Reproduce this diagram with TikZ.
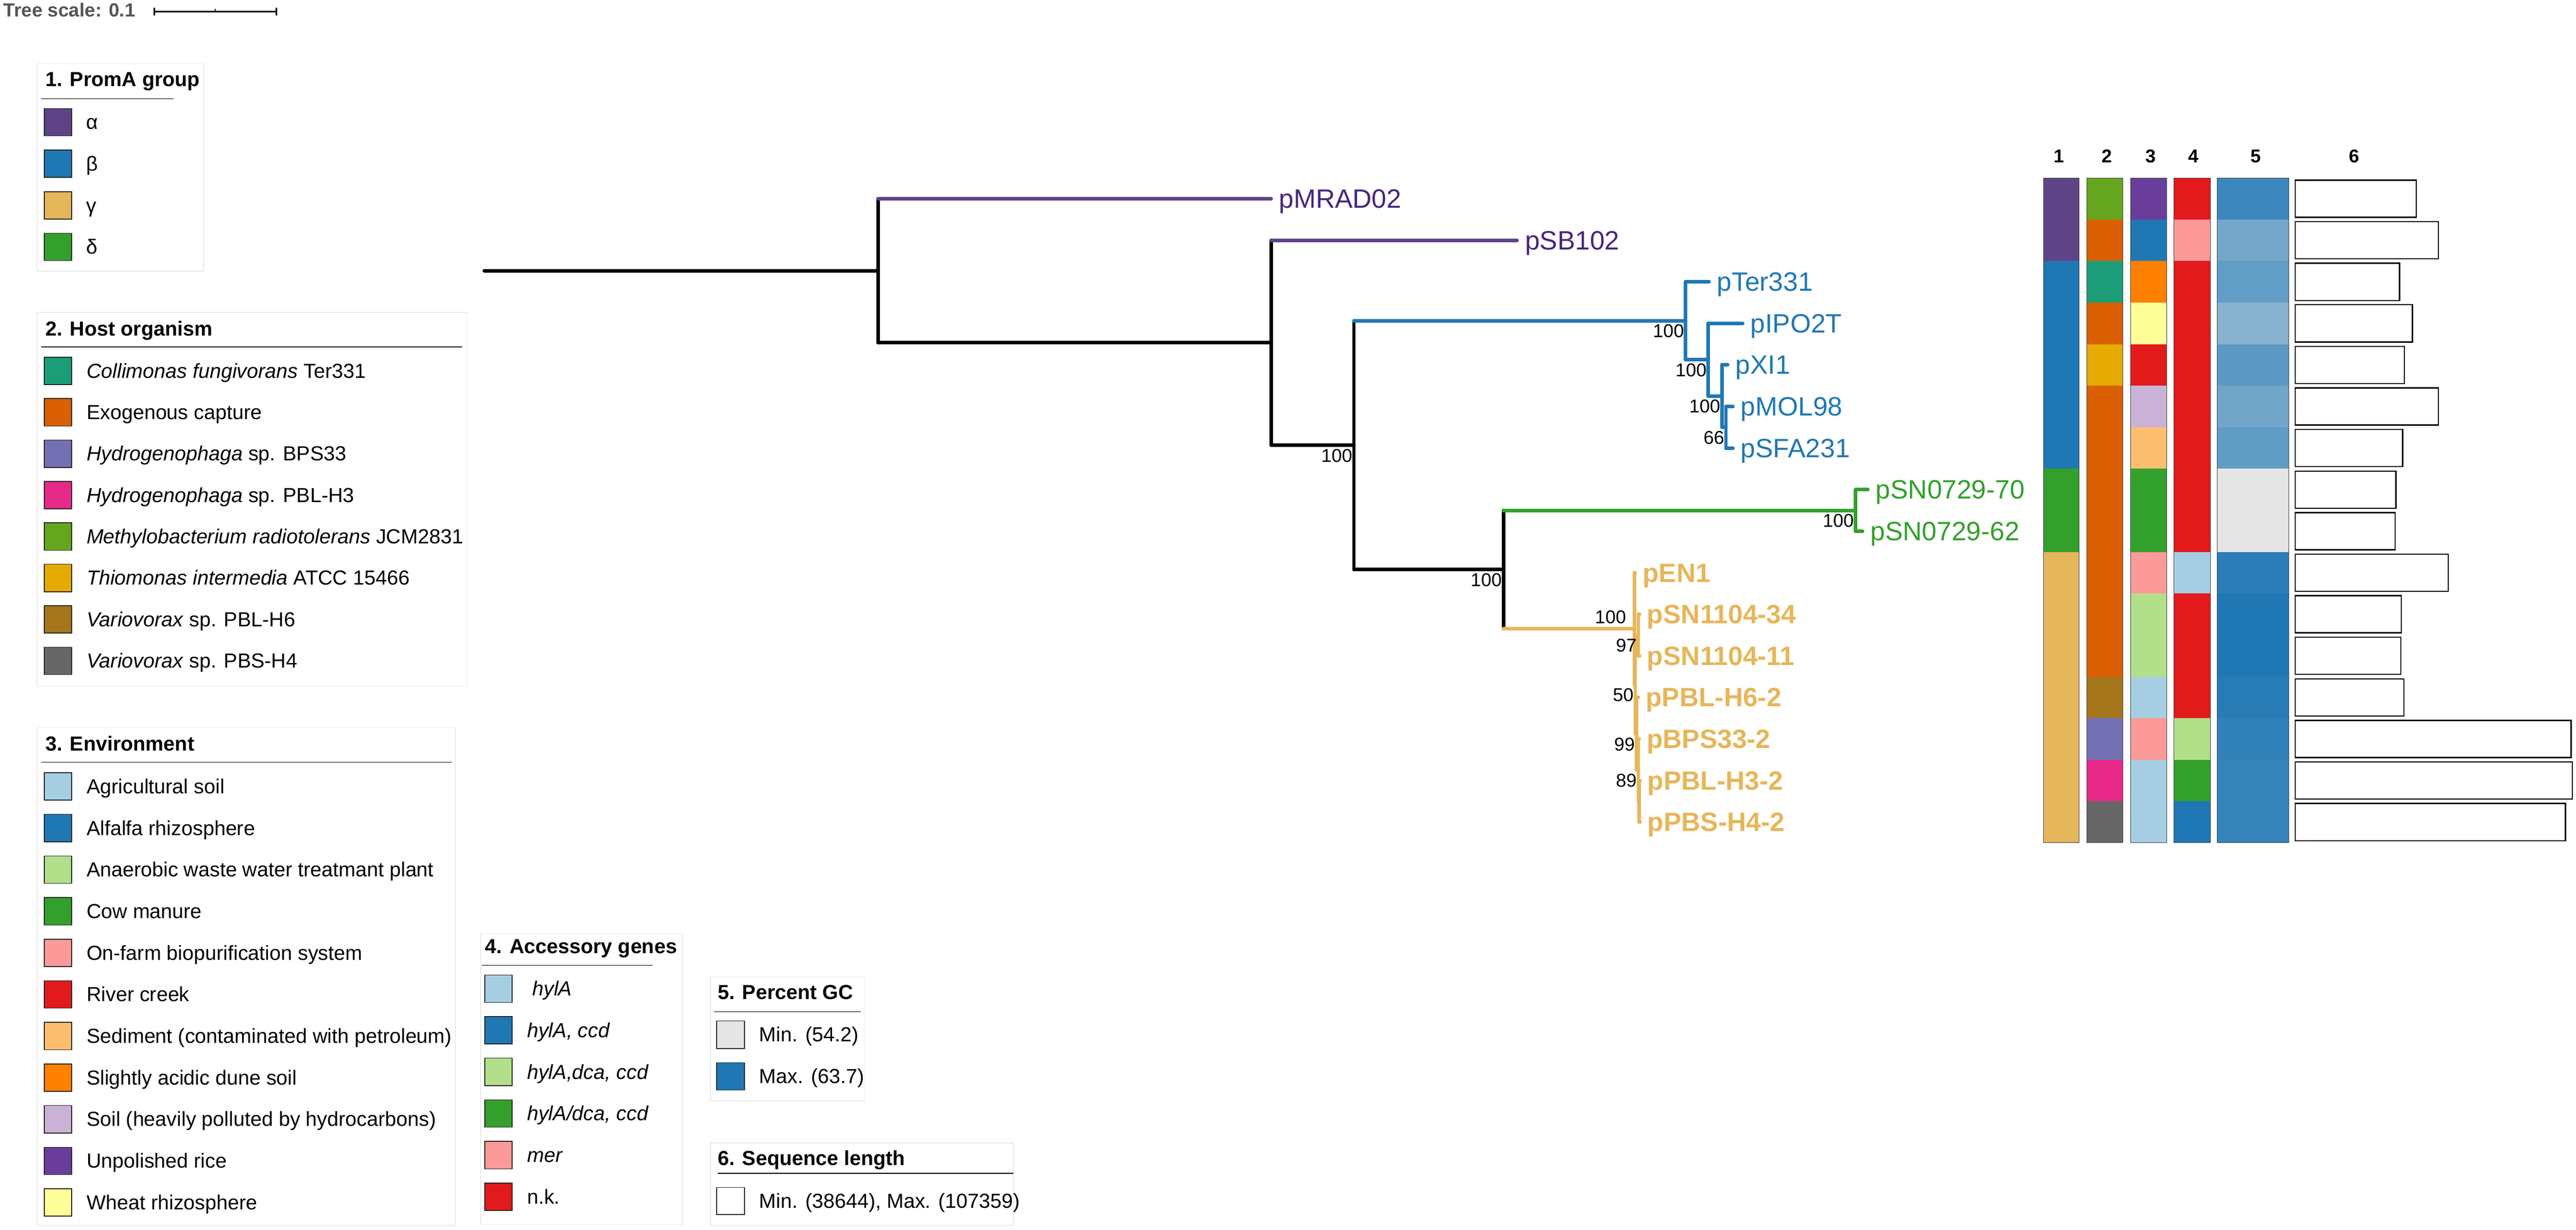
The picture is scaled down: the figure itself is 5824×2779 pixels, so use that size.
\documentclass[tikz,border=0pt]{standalone}
\usepackage{fontspec}
\setmainfont{Liberation Sans}
\usetikzlibrary{positioning,calc}

% clade colours
\definecolor{alphacol}{RGB}{95,67,135}
\definecolor{alphatext}{RGB}{72,38,124}
\definecolor{betacol}{RGB}{31,120,180}
\definecolor{gammacol}{RGB}{230,182,90}
\definecolor{deltacol}{RGB}{51,160,44}
% host organism
\definecolor{colli}{RGB}{27,158,119}
\definecolor{exog}{RGB}{217,95,2}
\definecolor{hbps}{RGB}{117,112,179}
\definecolor{hpbl}{RGB}{231,41,138}
\definecolor{methylo}{RGB}{102,166,30}
\definecolor{thio}{RGB}{230,171,2}
\definecolor{vpbl}{RGB}{166,118,29}
\definecolor{vpbs}{RGB}{102,102,102}
% environment
\definecolor{agri}{RGB}{166,206,227}
\definecolor{alfalfa}{RGB}{31,120,180}
\definecolor{anaer}{RGB}{178,223,138}
\definecolor{cow}{RGB}{51,160,44}
\definecolor{onfarm}{RGB}{251,154,153}
\definecolor{creek}{RGB}{227,26,28}
\definecolor{sediment}{RGB}{253,191,111}
\definecolor{acidic}{RGB}{255,127,0}
\definecolor{soilhc}{RGB}{202,178,214}
\definecolor{rice}{RGB}{106,61,154}
\definecolor{wheat}{RGB}{255,255,153}
% accessory genes
\definecolor{hyla}{RGB}{166,206,227}
\definecolor{hylaccd}{RGB}{31,120,180}
\definecolor{hyladca}{RGB}{178,223,138}
\definecolor{hyladcas}{RGB}{51,160,44}
\definecolor{mer}{RGB}{251,154,153}
\definecolor{nk}{RGB}{227,26,28}
% percent GC
\definecolor{gcmin}{RGB}{229,229,229}
\definecolor{gcmax}{RGB}{31,120,180}

\newcommand{\legfont}{\fontsize{11.5pt}{13.8pt}\selectfont}
\newcommand{\leaffont}{\fontsize{15pt}{18pt}\selectfont}
\newcommand{\bootfont}{\fontsize{10.5pt}{12.6pt}\selectfont}
\newcommand{\headfont}{\fontsize{10.5pt}{12.6pt}\selectfont\bfseries}
\newcommand{\scalefnt}{\fontsize{10.75pt}{13pt}\selectfont\bfseries}

\tikzstyle{branch}=[line width=2pt,line cap=round]
\tikzstyle{leaf}=[anchor=base west,inner sep=0pt,font=\leaffont]
\tikzstyle{boot}=[anchor=base east,inner sep=0pt,font=\bootfont]
\tikzstyle{legbox}=[draw=black!8,line width=0.5pt]
\tikzstyle{legtitle}=[anchor=base west,inner sep=0pt,font=\legfont\bfseries]
\tikzstyle{leglabel}=[anchor=base west,inner sep=0pt,font=\legfont]
\tikzstyle{swatch}=[draw=black!85,line width=0.45pt]
\tikzstyle{lenbar}=[draw=black,line width=0.7pt,fill=white]
\tikzstyle{colhead}=[anchor=base,inner sep=0pt,font=\headfont]

\begin{document}
\begin{tikzpicture}[x=0.25pt,y=-0.25pt]
    \useasboundingbox (0,0) rectangle (5824,2779);

    % tree scale
    \node[anchor=base west,inner sep=0pt,font=\scalefnt,text=black!67] (scale) at (7,38) {Tree scale: 0.1};
    \coordinate (s0) at (349,26);
    \coordinate (s1) at (625,26);
    \draw[line width=0.8pt] (s0) -- (s1);
    \draw[line width=0.8pt] ($(s0)+(0,-9)$) -- ($(s0)+(0,9)$);
    \draw[line width=0.8pt] ($(s1)+(0,-9)$) -- ($(s1)+(0,9)$);
    \draw[line width=0.6pt] ($(s0)!0.5!(s1)$) -- ++(0,-6);

    % leaves
    \foreach \nm/\tx/\row in {mrad/2874/0, sb/3430/1, ter/3864/2, ipo/3940/3,
      xi/3906/4, mol/3918/5, sfa/3918/6, s70/4223/7, s62/4211/8, en/3697/9,
      s34/3707/10, s11/3707/11, h6/3704/12, bps/3706/13, h3/3708/14, h4/3708/15}
      \coordinate (\nm) at (\tx,{449+93.9*\row});

    % inner nodes
    \coordinate (G) at (3902,965.45);
    \coordinate (F) at (3893,895);
    \coordinate (E) at (3862,812.9);
    \coordinate (D) at (3811,724.8);
    \coordinate (I) at (4195,1153.25);
    \coordinate (Nl) at (3706,1810.55);
    \coordinate (N89) at (3704,1740.1);
    \coordinate (N99) at (3700,1658);
    \coordinate (N97) at (3704,1435);
    \coordinate (N50) at (3697,1546.5);
    \coordinate (J) at (3695,1420.3);
    \coordinate (H) at (3399,1286.8);
    \coordinate (C) at (3061,1005.8);
    \coordinate (B) at (2874,774.3);
    \coordinate (A) at (1985,611.7);
    \coordinate (root) at (1095,611.7);

    % branches
    \draw[branch] (root) -- (A);
    \foreach \p/\a/\b/\col in {A/mrad/B/black, B/sb/C/black, C/D/H/black,
      D/ter/E/betacol, E/ipo/F/betacol, F/xi/G/betacol, G/mol/sfa/betacol,
      H/I/J/black, I/s70/s62/deltacol, J/en/N50/gammacol, N50/N97/N99/gammacol,
      N97/s34/s11/gammacol, N99/h6/N89/gammacol, N89/bps/Nl/gammacol, Nl/h3/h4/gammacol}
      \draw[branch,draw=\col] (\p |- \a) -- (\p |- \b);
    \foreach \p/\ch/\col in {A/mrad/alphacol, A/B/black, B/sb/alphacol, B/C/black,
      C/D/betacol, C/H/black, D/ter/betacol, D/E/betacol, E/ipo/betacol, E/F/betacol,
      F/xi/betacol, F/G/betacol, G/mol/betacol, G/sfa/betacol, H/I/deltacol,
      H/J/gammacol, I/s70/deltacol, I/s62/deltacol, J/en/gammacol, J/N50/gammacol,
      N50/N97/gammacol, N50/N99/gammacol, N97/s34/gammacol, N97/s11/gammacol,
      N99/h6/gammacol, N99/N89/gammacol, N89/bps/gammacol, N89/Nl/gammacol,
      Nl/h3/gammacol, Nl/h4/gammacol}
      \draw[branch,draw=\col] (\p |- \ch) -- (\ch);

    % leaf labels
    \foreach \nm/\txt in {mrad/pMRAD02, sb/pSB102}
      \node[leaf,text=alphatext] (l\nm) at ($(\nm)+(17,21)$) {\txt};
    \foreach \nm/\txt in {ter/pTer331, ipo/pIPO2T, xi/pXI1, mol/pMOL98, sfa/pSFA231}
      \node[leaf,text=betacol] (l\nm) at ($(\nm)+(17,21)$) {\txt};
    \foreach \nm/\txt in {s70/pSN0729-70, s62/pSN0729-62}
      \node[leaf,text=deltacol] (l\nm) at ($(\nm)+(17,21)$) {\txt};
    \foreach \nm/\txt in {en/pEN1, s34/pSN1104-34, s11/pSN1104-11, h6/pPBL-H6-2,
      bps/pBPS33-2, h3/pPBL-H3-2, h4/pPBS-H4-2}
      \node[leaf,text=gammacol,font=\leaffont\bfseries] (l\nm) at ($(\nm)+(16,21)$) {\txt};

    % bootstrap values
    \foreach \p/\v in {C/100, D/100, E/100, F/100, G/66, H/100, I/100,
      N97/97, N50/50, N99/99, N89/89}
      \node[boot] (bs\p) at ($(\p)+(-3,38)$) {\v};
    \node[boot] (bsJ) at ($(J)+(-18,-12)$) {100};

    % data strips
    \foreach \n/\hx in {1/4655, 2/4763, 3/4862, 4/4959, 5/5100, 6/5322}
      \node[colhead] (head\n) at (\hx,368) {\n};
    \foreach \ka/\kb/\kc/\kd/\gc/\blen [count=\i from 0] in {
      alphacol/methylo/rice/nk/86/5463, alphacol/exog/alfalfa/mer/57/5513,
      betacol/colli/acidic/nk/66/5425, betacol/exog/wheat/nk/47/5454,
      betacol/thio/creek/nk/69/5436, betacol/exog/soilhc/nk/58/5513,
      betacol/exog/sediment/nk/67/5432, deltacol/exog/cow/nk/0/5417,
      deltacol/exog/cow/nk/0/5415, gammacol/exog/onfarm/hyla/94/5535,
      gammacol/exog/anaer/nk/100/5429, gammacol/exog/anaer/nk/100/5428,
      gammacol/vpbl/agri/nk/96/5435, gammacol/hbps/onfarm/hyladca/92/5813,
      gammacol/hpbl/agri/hyladcas/89/5816, gammacol/vpbs/agri/hylaccd/89/5800}{
      \fill[\ka] (4620,{402+93.9*\i}) rectangle (4701,{495.9+93.9*\i});
      \fill[\kb] (4718,{402+93.9*\i}) rectangle (4800,{495.9+93.9*\i});
      \fill[\kc] (4817,{402+93.9*\i}) rectangle (4898,{495.9+93.9*\i});
      \fill[\kd] (4915,{402+93.9*\i}) rectangle (4997,{495.9+93.9*\i});
      \fill[gcmax!\gc!gcmin] (5013,{402+93.9*\i}) rectangle (5174,{495.9+93.9*\i});
      \draw[lenbar] (5189,{407+93.9*\i}) rectangle (\blen,{491+93.9*\i});
    }
    \foreach \xa/\xb in {4620/4701, 4718/4800, 4817/4898, 4915/4997, 5013/5174}
      \draw[line width=0.3pt,black!75] (\xa,402) rectangle (\xb,1904);

    % legend 1
    \draw[legbox] (84,144) rectangle (460,613);
    \node[legtitle] (t1) at (102,195) {1. PromA group};
    \draw[line width=0.5pt] (93,223) -- (393,223);
    \foreach \col/\txt [count=\i from 0] in {alphacol/α, betacol/β, gammacol/γ, deltacol/δ}{
      \draw[swatch,fill=\col] (100,{245+94*\i}) rectangle ++(62,62);
      \node[leglabel] (g\i) at (194,{292+94*\i}) {\txt};
    }

    % legend 2
    \draw[legbox] (84,706) rectangle (1056,1551);
    \node[legtitle] (t2) at (102,759) {2. Host organism};
    \draw[line width=0.5pt] (93,784) -- (1045,784);
    \foreach \col/\txt [count=\i from 0] in {
      colli/{\textit{Collimonas fungivorans} Ter331},
      exog/{Exogenous capture},
      hbps/{\textit{Hydrogenophaga} sp. BPS33},
      hpbl/{\textit{Hydrogenophaga} sp. PBL-H3},
      methylo/{\textit{Methylobacterium radiotolerans} JCM2831},
      thio/{\textit{Thiomonas intermedia} ATCC 15466},
      vpbl/{\textit{Variovorax} sp. PBL-H6},
      vpbs/{\textit{Variovorax} sp. PBS-H4}}{
      \draw[swatch,fill=\col] (100,{807+93.6*\i}) rectangle ++(62,62);
      \node[leglabel] (h\i) at (195,{854+93.6*\i}) {\txt};
    }

    % legend 3
    \draw[legbox] (84,1644) rectangle (1030,2769);
    \node[legtitle] (t3) at (102,1696) {3. Environment};
    \draw[line width=0.5pt] (93,1722) -- (1021,1722);
    \foreach \col/\txt [count=\i from 0] in {
      agri/{Agricultural soil},
      alfalfa/{Alfalfa rhizosphere},
      anaer/{Anaerobic waste water treatmant plant},
      cow/{Cow manure},
      onfarm/{On-farm biopurification system},
      creek/{River creek},
      sediment/{Sediment (contaminated with petroleum)},
      acidic/{Slightly acidic dune soil},
      soilhc/{Soil (heavily polluted by hydrocarbons)},
      rice/{Unpolished rice},
      wheat/{Wheat rhizosphere}}{
      \draw[swatch,fill=\col] (100,{1746+94*\i}) rectangle ++(62,62);
      \node[leglabel] (e\i) at (195,{1793+94*\i}) {\txt};
    }

    % legend 4
    \draw[legbox] (1087,2110) rectangle (1543,2767);
    \node[legtitle] (t4) at (1096,2154) {4. Accessory genes};
    \draw[line width=0.5pt] (1089,2181) -- (1476,2181);
    \foreach \col/\txt [count=\i from 0] in {
      hyla/{\hspace{3pt}\textit{hylA}},
      hylaccd/{\textit{hylA, ccd}},
      hyladca/{\textit{hylA,dca, ccd}},
      hyladcas/{\textit{hylA/dca, ccd}},
      mer/{\textit{mer}},
      nk/{n.k.}}{
      \draw[swatch,fill=\col] (1096,{2203+94*\i}) rectangle ++(62,62);
      \node[leglabel] (a\i) at (1191,{2250+94*\i}) {\txt};
    }

    % legend 5
    \draw[legbox] (1606,2208) rectangle (1954,2488);
    \node[legtitle] (t5) at (1622,2258) {5. Percent GC};
    \draw[line width=0.5pt] (1614,2286) -- (1946,2286);
    \foreach \col/\txt [count=\i from 0] in {gcmin/{Min. (54.2)}, gcmax/{Max. (63.7)}}{
      \draw[swatch,fill=\col] (1620,{2307+94*\i}) rectangle ++(63,62);
      \node[leglabel] (gc\i) at (1716,{2354+94*\i}) {\txt};
    }

    % legend 6
    \draw[legbox] (1606,2582) rectangle (2291,2769);
    \node[legtitle] (t6) at (1622,2633) {6. Sequence length};
    \draw[line width=0.5pt] (1622,2651) -- (2291,2651);
    \draw[swatch,fill=white] (1620,2683) rectangle ++(63,61);
    \node[leglabel] (len) at (1716,2730) {Min. (38644), Max. (107359)};
\end{tikzpicture}
\end{document}
